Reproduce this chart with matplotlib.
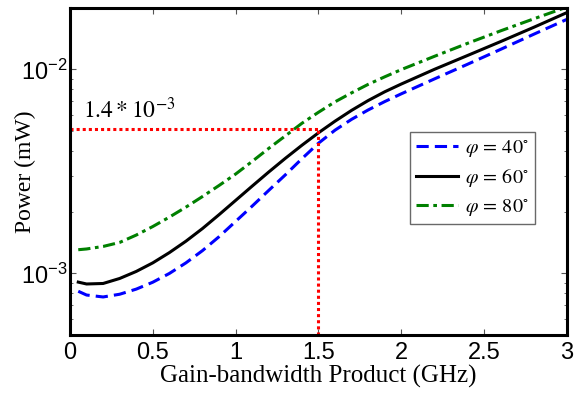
import numpy as np
import matplotlib
matplotlib.use("Agg")
import matplotlib.pyplot as plt
from matplotlib.ticker import LogLocator, NullFormatter, FixedLocator, FixedFormatter

plt.rcParams["font.family"] = "Liberation Sans"
plt.rcParams["mathtext.fontset"] = "stix"

# gain-bandwidth product in GHz, power in mW
gbw = [0.05, 0.1, 0.2, 0.3, 0.4, 0.5, 0.6, 0.7, 0.8, 0.9, 1.0, 1.1, 1.2, 1.3,
       1.4, 1.5, 1.6, 1.7, 1.8, 1.9, 2.0, 2.2, 2.4, 2.6, 2.8, 3.0]
p_40 = [8.18e-4, 7.84e-4, 7.67e-4, 7.91e-4, 8.38e-4, 9.06e-4, 1.0e-3, 1.127e-3,
        1.294e-3, 1.514e-3, 1.799e-3, 2.138e-3, 2.553e-3, 3.041e-3, 3.648e-3, 4.345e-3,
        5.035e-3, 5.689e-3, 6.324e-3, 6.95e-3, 7.586e-3, 8.974e-3, 1.059e-2, 1.253e-2,
        1.486e-2, 1.758e-2]
p_60 = [9.07e-4, 8.88e-4, 8.93e-4, 9.45e-4, 1.023e-3, 1.127e-3, 1.265e-3, 1.439e-3,
        1.66e-3, 1.941e-3, 2.28e-3, 2.679e-3, 3.141e-3, 3.664e-3, 4.246e-3, 4.887e-3,
        5.572e-3, 6.295e-3, 7.031e-3, 7.762e-3, 8.472e-3, 1.0e-2, 1.169e-2, 1.368e-2,
        1.607e-2, 1.897e-2]
p_80 = [1.307e-3, 1.318e-3, 1.356e-3, 1.419e-3, 1.542e-3, 1.698e-3, 1.888e-3, 2.113e-3,
        2.382e-3, 2.698e-3, 3.069e-3, 3.54e-3, 4.10e-3, 4.72e-3, 5.44e-3, 6.16e-3,
        6.93e-3, 7.67e-3, 8.44e-3, 9.19e-3, 9.97e-3, 1.158e-2, 1.341e-2, 1.544e-2,
        1.768e-2, 2.02e-2]

# operating point marked on the plot
op_gbw = 1.5
op_power = 5.1e-3
op_label = r"$1.4 * 10^{-3}$"

fig = plt.figure(figsize=(5.75, 3.94), dpi=100)
ax = fig.add_axes([0.1217, 0.150, 0.8643, 0.830])

ax.plot(gbw, p_40, color="#0000ff", lw=2.2, ls=(0, (4, 2)), label=r"$\varphi\,=\,40^{\circ}$")
ax.plot(gbw, p_60, color="black", lw=2.2, ls="-", label=r"$\varphi\,=\,60^{\circ}$")
ax.plot(gbw, p_80, color="#008000", lw=2.2, ls=(0, (4, 1.5, 1.2, 1.5)), label=r"$\varphi\,=\,80^{\circ}$")

ax.plot([0, op_gbw], [op_power, op_power], color="#ff0000", lw=2.2, ls=(0, (1, 1)))
ax.plot([op_gbw, op_gbw], [5e-4, op_power], color="#ff0000", lw=2.2, ls=(0, (1, 1)))
ax.text(0.078, 5.75e-3, op_label, fontsize=17, va="baseline", ha="left")

ax.set_yscale("log")
ax.set_xlim(0, 3)
ax.set_ylim(5e-4, 2e-2)

ax.xaxis.set_major_locator(FixedLocator([0, 0.5, 1, 1.5, 2, 2.5, 3]))
ax.xaxis.set_major_formatter(FixedFormatter(["0", "0.5", "1", "1.5", "2", "2.5", "3"]))
ax.yaxis.set_major_locator(FixedLocator([1e-3, 1e-2]))
ax.yaxis.set_major_formatter(FixedFormatter([r"$\mathregular{10^{-3}}$", r"$\mathregular{10^{-2}}$"]))
ax.yaxis.set_minor_locator(LogLocator(base=10, subs=np.arange(2, 10)))
ax.yaxis.set_minor_formatter(NullFormatter())

ax.tick_params(which="both", direction="in", top=True, right=True, labelsize=17, color="#555555")
ax.tick_params(which="major", length=4)
ax.tick_params(which="minor", length=2.5)
ax.tick_params(axis="y", pad=2)
ax.tick_params(axis="x", pad=5)
for s in ax.spines.values():
    s.set_linewidth(2.2)

ax.set_xlabel("Gain-bandwidth Product (GHz)", family="Liberation Serif", fontsize=18)
ax.set_ylabel("Power (mW)", family="Liberation Serif", fontsize=17)
ax.xaxis.set_label_coords(0.5, -0.093)
ax.yaxis.set_label_coords(-0.068, 0.5)

leg = ax.legend(loc="upper right", bbox_to_anchor=(0.936, 0.621), borderaxespad=0,
                fancybox=False, edgecolor="#444444", fontsize=14.5, handlelength=2.1,
                labelspacing=0.4, handletextpad=0.35, borderpad=0.3)
leg.get_frame().set_linewidth(1.0)

fig.savefig("out.png", dpi=100)
